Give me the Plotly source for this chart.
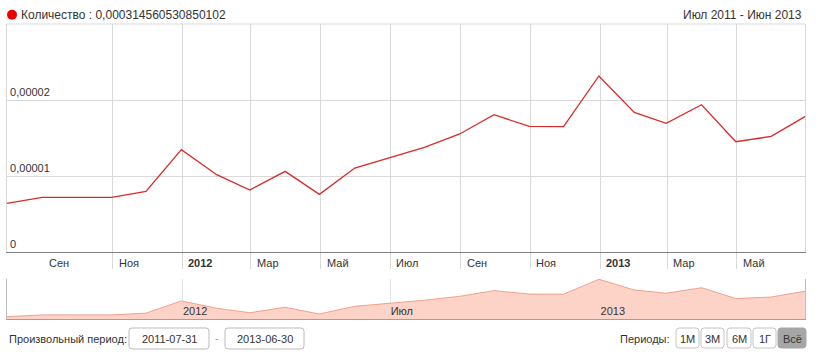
import plotly.graph_objects as go

# ---------------- data ----------------
dates = ["2011-07-31", "2011-08-31", "2011-09-30", "2011-10-31", "2011-11-30", "2011-12-31",
         "2012-01-31", "2012-02-29", "2012-03-31", "2012-04-30", "2012-05-31", "2012-06-30",
         "2012-07-31", "2012-08-31", "2012-09-30", "2012-10-31", "2012-11-30", "2012-12-31",
         "2013-01-31", "2013-02-28", "2013-03-31", "2013-04-30", "2013-05-31", "2013-06-30"]
values = [0.639e-5, 0.718e-5, 0.718e-5, 0.718e-5, 0.797e-5, 1.346e-5,
          1.017e-5, 0.816e-5, 1.061e-5, 0.758e-5, 1.105e-5, 1.241e-5,
          1.376e-5, 1.553e-5, 1.807e-5, 1.653e-5, 1.649e-5, 2.316e-5,
          1.837e-5, 1.692e-5, 1.938e-5, 1.451e-5, 1.521e-5, 1.784e-5]

main_tick_vals = ["2011-09-01", "2011-11-01", "2012-01-01", "2012-03-01", "2012-05-01", "2012-07-01",
                  "2012-09-01", "2012-11-01", "2013-01-01", "2013-03-01", "2013-05-01"]
main_tick_text = ["Сен", "Ноя", "<b>2012</b>", "Мар", "Май", "Июл",
                  "Сен", "Ноя", "<b>2013</b>", "Мар", "Май"]
nav_tick_vals = ["2012-01-01", "2012-07-01", "2013-01-01"]
nav_tick_text = ["2012", "Июл", "2013"]
y_tick_vals = [0, 1e-5, 2e-5]
y_tick_text = ["0", "0,00001", "0,00002"]

series_name = "Количество"
total_text = "0,000314560530850102"
range_text = "Июл 2011 - Июн 2013"
date_from, date_to = "2011-07-31", "2013-06-30"
period_buttons = ["1М", "3М", "6М", "1Г", "Всё"]

# ---------------- layout helpers ----------------
W, H = 817, 361
def px(x):
    return x / W
def py(y):
    return 1 - y / H

def rrect(x0, y0, x1, y1, r=3):
    X0, X1 = px(x0), px(x1)
    Y0, Y1 = py(y0), py(y1)
    rx, ry = r / W, r / H
    return (f"M {X0+rx},{Y0} L {X1-rx},{Y0} Q {X1},{Y0} {X1},{Y0-ry} "
            f"L {X1},{Y1+ry} Q {X1},{Y1} {X1-rx},{Y1} L {X0+rx},{Y1} "
            f"Q {X0},{Y1} {X0},{Y1+ry} L {X0},{Y0-ry} Q {X0},{Y0} {X0+rx},{Y0} Z")

FONT = "Liberation Sans, Arial, sans-serif"
GRID = "#d9d9d9"
TXT = "#333333"

xdom = [px(6.8), px(805.4)]

fig = go.Figure()
fig.add_trace(go.Scatter(x=dates, y=values, mode="lines",
                         line=dict(color="#d92b2b", width=1.3),
                         xaxis="x", yaxis="y", hoverinfo="skip", showlegend=False))
fig.add_trace(go.Scatter(x=dates, y=values, mode="lines", fill="tozeroy",
                         fillcolor="#fdd3c7", line=dict(color="#f0a08d", width=1),
                         xaxis="x2", yaxis="y2", hoverinfo="skip", showlegend=False))

shapes = []
annotations = []

# top border of main plot
shapes.append(dict(type="line", xref="paper", yref="paper", x0=xdom[0], x1=xdom[1],
                   y0=py(24), y1=py(24), line=dict(color=GRID, width=1)))

# main x tick labels (placed to the right of each grid line)
for v, t in zip(main_tick_vals, main_tick_text):
    annotations.append(dict(xref="x", yref="paper", x=v, y=py(263), xanchor="left",
                            yanchor="middle", xshift=4, showarrow=False, text=t,
                            font=dict(size=11, color=TXT, family=FONT)))

# header
shapes.append(dict(type="circle", xref="paper", yref="paper", x0=px(7), x1=px(17),
                   y0=py(19.7), y1=py(9.7), fillcolor="#ee0000", line=dict(width=0)))
annotations.append(dict(xref="paper", yref="paper", x=px(19), y=py(15), xanchor="left",
                        yanchor="middle", showarrow=False,
                        text=f"{series_name} : {total_text}",
                        font=dict(size=12, color=TXT, family=FONT)))
annotations.append(dict(xref="paper", yref="paper", x=px(804), y=py(15), xanchor="right",
                        yanchor="middle", showarrow=False, text=range_text,
                        font=dict(size=12, color=TXT, family=FONT)))

# bottom controls
annotations.append(dict(xref="paper", yref="paper", x=px(7), y=py(339), xanchor="left",
                        yanchor="middle", showarrow=False, text="Произвольный период:",
                        font=dict(size=11, color=TXT, family=FONT)))
for (x0, x1, t) in [(129, 209, date_from), (225, 304, date_to)]:
    shapes.append(dict(type="path", xref="paper", yref="paper", path=rrect(x0, 328, x1, 349),
                       fillcolor="white", line=dict(color="#bbbbbb", width=1)))
    annotations.append(dict(xref="paper", yref="paper", x=px((x0 + x1) / 2), y=py(339),
                            xanchor="center", yanchor="middle", showarrow=False, text=t,
                            font=dict(size=11, color=TXT, family=FONT)))
annotations.append(dict(xref="paper", yref="paper", x=px(217), y=py(338), xanchor="center",
                        yanchor="middle", showarrow=False, text="-",
                        font=dict(size=11, color="#999999", family=FONT)))

annotations.append(dict(xref="paper", yref="paper", x=px(672), y=py(339), xanchor="right",
                        yanchor="middle", showarrow=False, text="Периоды:",
                        font=dict(size=11, color=TXT, family=FONT)))
btn_pos = [(676, 699), (701, 724), (727, 751), (753, 776), (778, 806)]
for i, (lab, (x0, x1)) in enumerate(zip(period_buttons, btn_pos)):
    active = i == len(period_buttons) - 1
    shapes.append(dict(type="path", xref="paper", yref="paper", path=rrect(x0, 328, x1, 348),
                       fillcolor="#a6a6a6" if active else "white",
                       line=dict(color="#a6a6a6" if active else "#c4c4c4", width=1)))
    annotations.append(dict(xref="paper", yref="paper", x=px((x0 + x1) / 2), y=py(338.5),
                            xanchor="center", yanchor="middle", showarrow=False, text=lab,
                            font=dict(size=11, color=TXT, family=FONT)))

fig.update_layout(
    width=W, height=H, margin=dict(l=0, r=0, t=0, b=0, pad=0),
    paper_bgcolor="white", plot_bgcolor="white",
    separators=", ",
    font=dict(family=FONT, color=TXT),
    showlegend=False,
    xaxis=dict(type="date", domain=xdom, range=[date_from, date_to], anchor="y",
               tickmode="array", tickvals=main_tick_vals, ticktext=[""] * len(main_tick_vals),
               ticks="outside", ticklen=16, tickcolor=GRID, tickwidth=1,
               showgrid=True, gridcolor=GRID, gridwidth=1,
               showline=True, linecolor="#808080", linewidth=1, zeroline=False,
               fixedrange=True),
    yaxis=dict(domain=[py(252), py(24)], range=[0, 3e-5], anchor="x",
               tickmode="array", tickvals=y_tick_vals, ticktext=y_tick_text,
               ticklabelposition="inside top", ticks="", ticklabelstandoff=2,
               tickfont=dict(size=11, color=TXT, family=FONT),
               showgrid=True, gridcolor=GRID, gridwidth=1,
               showline=True, mirror=True, linecolor=GRID, linewidth=1, zeroline=False,
               fixedrange=True),
    xaxis2=dict(type="date", domain=xdom, range=[date_from, date_to], anchor="y2",
                tickmode="array", tickvals=nav_tick_vals, ticktext=nav_tick_text,
                ticklabelposition="inside right", ticks="", ticklabelstandoff=-2,
                tickfont=dict(size=11, color=TXT, family=FONT),
                showgrid=True, gridcolor="#e4e4e4", gridwidth=1,
                showline=True, linecolor="#a0a0a0", linewidth=1, zeroline=False,
                fixedrange=True),
    yaxis2=dict(domain=[py(319), py(279)], range=[0.535e-5, 2.33e-5], anchor="x2",
                showticklabels=False, ticks="", showgrid=False,
                showline=True, mirror=True, linecolor="#c0c0c0", linewidth=1, zeroline=False,
                fixedrange=True),
    shapes=shapes, annotations=annotations,
)

fig.write_html("out.html", config={"displayModeBar": False},
               post_script="document.body.style.margin='0';document.body.style.overflow='hidden';")
